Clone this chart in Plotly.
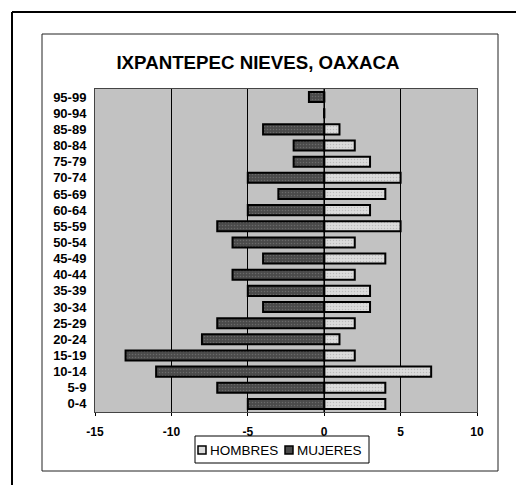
import plotly.graph_objects as go

categories = ["0-4", "5-9", "10-14", "15-19", "20-24", "25-29", "30-34", "35-39",
              "40-44", "45-49", "50-54", "55-59", "60-64", "65-69", "70-74",
              "75-79", "80-84", "85-89", "90-94", "95-99"]
hombres = [4, 4, 7, 2, 1, 2, 3, 3, 2, 4, 2, 5, 3, 4, 5, 3, 2, 1, 0, 0]
mujeres = [-5, -7, -11, -13, -8, -7, -4, -5, -6, -4, -6, -7, -5, -3, -5, -2, -2, -4, 0, -1]
x_ticks = [-15, -10, -5, 0, 5, 10]
series_names = ["HOMBRES", "MUJERES"]
title_text = "IXPANTEPEC NIEVES, OAXACA"

W, H = 516, 485
L, R, T, B = 95, 477, 89, 412

light = "#dcdcdc"
dark = "#4a4a4a"

fig = go.Figure()
fig.add_trace(go.Bar(y=categories, x=hombres, orientation="h", name=series_names[0],
                     marker=dict(color=light, line=dict(color="black", width=2),
                                 pattern=dict(shape=".", fgcolor="#9a9a9a", size=3, solidity=0.2))))
fig.add_trace(go.Bar(y=categories, x=mujeres, orientation="h", name=series_names[1],
                     marker=dict(color=dark, line=dict(color="black", width=2),
                                 pattern=dict(shape=".", fgcolor="#8a8a8a", size=3, solidity=0.2))))

def px(xp):
    return (xp - L) / (R - L)

def py(yp):
    return (B - yp) / (B - T)

shapes = [
    dict(type="line", xref="paper", yref="paper", x0=px(12), x1=px(520), y0=py(12), y1=py(12),
         line=dict(color="black", width=2)),
    dict(type="line", xref="paper", yref="paper", x0=px(12), x1=px(12), y0=py(12), y1=py(490),
         line=dict(color="black", width=2)),
    dict(type="rect", xref="paper", yref="paper", x0=px(42), x1=px(498), y0=py(34), y1=py(471),
         line=dict(color="#222222", width=1)),
    dict(type="line", xref="x", yref="paper", x0=0, x1=0, y0=0, y1=1,
         line=dict(color="black", width=1.5)),
    # legend box
    dict(type="rect", xref="paper", yref="paper", x0=px(195), x1=px(369), y0=py(436), y1=py(463),
         line=dict(color="black", width=1), fillcolor="white"),
    dict(type="rect", xref="paper", yref="paper", x0=px(198), x1=px(206), y0=py(446), y1=py(454),
         line=dict(color="black", width=1.5), fillcolor=light),
    dict(type="rect", xref="paper", yref="paper", x0=px(285), x1=px(293), y0=py(446), y1=py(454),
         line=dict(color="black", width=1.5), fillcolor=dark),
]

annotations = [
    dict(text=series_names[0], xref="paper", yref="paper", x=px(208), y=py(450),
         xanchor="left", yanchor="middle", showarrow=False, font=dict(size=13.5)),
    dict(text=series_names[1], xref="paper", yref="paper", x=px(295), y=py(450),
         xanchor="left", yanchor="middle", showarrow=False, font=dict(size=13.5)),
]

fig.update_layout(
    width=W, height=H,
    margin=dict(l=L, r=W - R, t=T, b=H - B),
    paper_bgcolor="white",
    plot_bgcolor="#c2c2c2",
    barmode="relative",
    bargap=0.38,
    font=dict(family="Liberation Sans, Arial", color="black", size=11),
    title=dict(text="<b>" + title_text + "</b>", x=258 / W, xanchor="center",
               y=1 - 62 / H, yanchor="middle", font=dict(size=18.7, family="Liberation Sans, Arial")),
    xaxis=dict(range=[-15, 10], tickvals=x_ticks, ticktext=["<b>%d</b>" % v for v in x_ticks],
               showgrid=True, gridcolor="black", gridwidth=1, zeroline=False,
               showline=True, linecolor="#444444", linewidth=1, mirror=True,
               ticks="outside", ticklen=3, tickcolor="black", ticklabelstandoff=6,
               tickfont=dict(size=12)),
    yaxis=dict(categoryorder="array", categoryarray=categories,
               tickvals=categories, ticktext=["<b>%s</b>" % c for c in categories],
               showgrid=False, zeroline=False, showline=True, linecolor="#444444", linewidth=1,
               mirror=True, ticks="", ticklabelstandoff=5, tickfont=dict(size=13)),
    shapes=shapes,
    annotations=annotations,
    showlegend=False,
)

fig.write_html("out.html", config={"displayModeBar": False},
               post_script="document.body.style.margin='0';document.body.style.overflow='hidden';")
